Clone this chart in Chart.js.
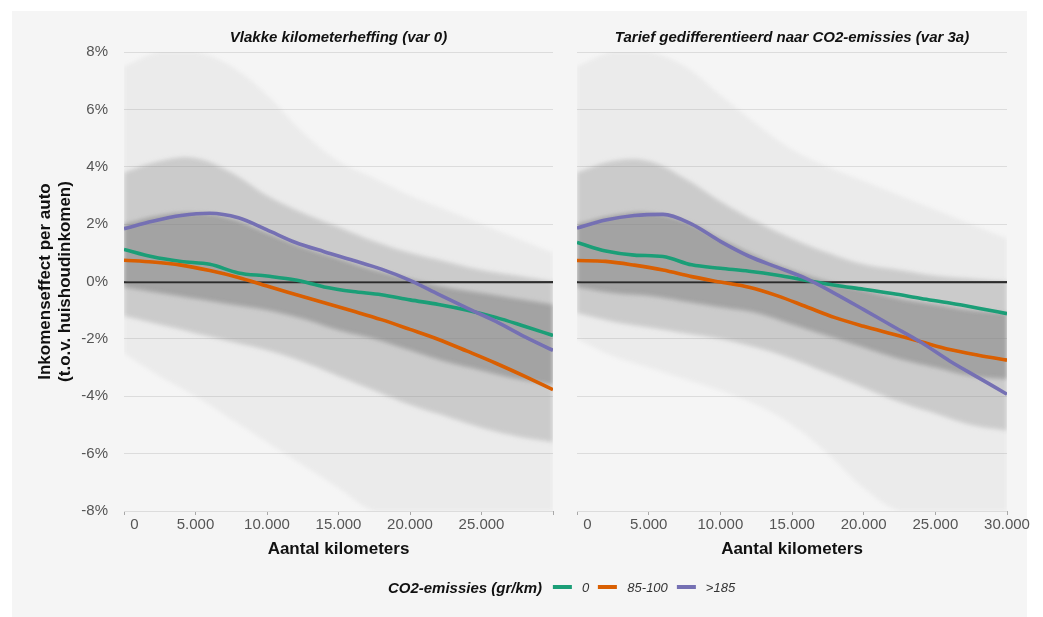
<!DOCTYPE html>
<html>
<head>
<meta charset="utf-8">
<script src="https://cdn.jsdelivr.net/npm/chart.js@4.4.1/dist/chart.umd.min.js"></script>
<style>
  html, body { margin: 0; padding: 0; background: #ffffff; }
  body { width: 1043px; height: 617px; position: relative; overflow: hidden;
         font-family: Arial, "Liberation Sans", sans-serif; }
  #panel { position: absolute; left: 12px; top: 11px; width: 1015px; height: 606px; background: #f5f5f5; }
  canvas { position: absolute; top: 0; }
  #c1 { left: 0; }
  #c2 { left: 540px; }
  #legend { position: absolute; left: 566px; top: 577px; transform: translateX(-50%);
            display: flex; align-items: center; white-space: nowrap; height: 20px; }
  #legend .ttl { font-weight: bold; font-style: italic; font-size: 15px; color: #111; margin-right: 11px; }
  #legend .sw { display: inline-block; width: 19px; height: 4px; margin-right: 10px; }
  #legend .lb { font-style: italic; font-size: 13px; color: #333; margin-right: 9px; }
</style>
</head>
<body>
<div id="panel"></div>
<canvas id="c1" width="565" height="617"></canvas>
<canvas id="c2" width="503" height="617"></canvas>
<div id="legend"></div>
<script>
// ---------- data ----------
const panelTitles = ['Vlakke kilometerheffing (var 0)', 'Tarief gedifferentieerd naar CO2-emissies (var 3a)'];
const xAxisTitle = 'Aantal kilometers';
const yAxisTitle = ['Inkomenseffect per auto', '(t.o.v. huishoudinkomen)'];
const legendTitle = 'CO2-emissies (gr/km)';
const seriesNames = ['0', '85-100', '>185'];
const seriesColors = ['#1b9e77', '#d95f02', '#7570b3'];

const yTicks = [-8, -6, -4, -2, 0, 2, 4, 6, 8];
const xTicks = [0, 5000, 10000, 15000, 20000, 25000, 30000];

// km positions of the smoothed lines
const kmLine = [0, 2000, 4000, 6000, 8000, 10000, 12000, 14000, 16000, 18000, 20000, 22000, 24000, 26000, 28000, 30000];

// Panel 1: Vlakke kilometerheffing (var 0)
const var0_co2_0      = [1.12, 0.86, 0.70, 0.60, 0.30, 0.19, 0.05, -0.19, -0.35, -0.46, -0.64, -0.80, -1.00, -1.25, -1.56, -1.88];
const var0_co2_85_100 = [0.74, 0.68, 0.57, 0.38, 0.14, -0.16, -0.45, -0.74, -1.03, -1.33, -1.67, -2.02, -2.43, -2.85, -3.30, -3.77];
const var0_co2_185    = [1.84, 2.10, 2.30, 2.38, 2.22, 1.80, 1.36, 1.04, 0.74, 0.43, 0.04, -0.45, -0.93, -1.39, -1.92, -2.40];

// Panel 2: Tarief gedifferentieerd naar CO2-emissies (var 3a)
const var3a_co2_0      = [1.36, 1.06, 0.92, 0.87, 0.58, 0.46, 0.36, 0.22, 0.04, -0.13, -0.27, -0.42, -0.59, -0.75, -0.93, -1.12];
const var3a_co2_85_100 = [0.73, 0.70, 0.57, 0.40, 0.17, -0.02, -0.20, -0.50, -0.88, -1.26, -1.56, -1.83, -2.10, -2.37, -2.57, -2.74];
const var3a_co2_185    = [1.86, 2.14, 2.30, 2.34, 2.00, 1.40, 0.88, 0.49, 0.10, -0.42, -0.98, -1.55, -2.12, -2.77, -3.35, -3.93];

// Scatter cloud of households, summarised as density envelopes
const kmCloud = [0, 2500, 5000, 7500, 10000, 12500, 15000, 17500, 20000, 22500, 25000, 27500, 30000];
const var0_outerTop = [7.5, 8.0, 8.0, 7.5, 6.5, 5.2, 4.2, 3.6, 3.0, 2.5, 2.0, 1.5, 1.0];
const var0_outerBot = [-2.5, -3.3, -4.0, -4.8, -5.6, -6.4, -7.2, -8.0, -8.0, -8.0, -8.0, -8.0, -8.0];
const var0_midTop   = [3.8, 4.2, 4.3, 3.8, 3.0, 2.4, 1.9, 1.4, 1.0, 0.7, 0.4, 0.2, 0.0];
const var0_midBot   = [-1.2, -1.5, -1.8, -2.1, -2.4, -2.8, -3.3, -3.8, -4.3, -4.7, -5.1, -5.4, -5.6];
const var0_coreTop  = [2.0, 2.3, 2.4, 2.2, 1.7, 1.2, 0.8, 0.4, 0.1, -0.2, -0.4, -0.6, -0.8];
const var0_coreBot  = [-0.2, -0.4, -0.6, -0.8, -1.0, -1.3, -1.7, -2.0, -2.4, -2.8, -3.1, -3.4, -3.6];

const var3a_outerTop = [7.5, 8.0, 8.0, 7.5, 6.5, 5.5, 4.6, 4.0, 3.5, 3.0, 2.5, 2.0, 1.5];
const var3a_outerBot = [-2.0, -2.6, -3.0, -3.4, -3.8, -4.3, -5.0, -6.0, -7.2, -8.0, -8.0, -8.0, -8.0];
const var3a_midTop   = [3.8, 4.2, 4.2, 3.6, 2.8, 2.1, 1.5, 1.0, 0.6, 0.4, 0.2, 0.1, 0.0];
const var3a_midBot   = [-1.1, -1.4, -1.6, -1.8, -2.0, -2.3, -2.7, -3.2, -3.7, -4.2, -4.6, -5.0, -5.2];
const var3a_coreTop  = [2.0, 2.3, 2.4, 2.1, 1.5, 0.9, 0.4, 0.0, -0.3, -0.6, -0.8, -1.0, -1.1];
const var3a_coreBot  = [-0.2, -0.4, -0.5, -0.7, -0.9, -1.1, -1.5, -1.9, -2.3, -2.7, -3.0, -3.3, -3.4];

// ---------- chart ----------
const FONT = 'Arial, "Liberation Sans", sans-serif';
Chart.defaults.font.family = FONT;

function pts(xs, ys) { return xs.map((x, i) => ({ x: x, y: ys[i] })); }
function fmtKm(v) { return String(v).replace(/\B(?=(\d{3})+(?!\d))/g, '.'); }

function band(top, bot, color, order) {
  return [
    { data: pts(kmCloud, top), fill: '+1', backgroundColor: color, borderWidth: 0,
      pointRadius: 0, tension: 0.4, order: order },
    { data: pts(kmCloud, bot), fill: false, borderWidth: 0, pointRadius: 0,
      tension: 0.4, order: order }
  ];
}

function lineDs(ys, idx, order, zeroBelow) {
  return { label: seriesNames[idx], data: pts(kmLine, ys), borderColor: seriesColors[idx],
           borderWidth: 3.6, pointRadius: 0, fill: false, cubicInterpolationMode: 'monotone',
           order: order, zeroBelow: !!zeroBelow, borderCapStyle: 'butt' };
}

// soft edges for the cloud, then the zero line above the cloud but below the series
const cloudAndZeroPlugin = {
  id: 'cloudAndZero',
  beforeDatasetsDraw(chart) {
    chart.ctx.save();
    chart.ctx.filter = 'blur(2px)';
  },
  beforeDatasetDraw(chart, args) {
    const ds = chart.data.datasets[args.index];
    if (!ds.zeroBelow) return;
    const ctx = chart.ctx;
    ctx.restore();
    ctx.filter = 'none';
    const y = Math.round(chart.scales.y.getPixelForValue(0)) + 0.5;
    const a = chart.chartArea;
    ctx.save();
    ctx.strokeStyle = '#2b2b2b';
    ctx.lineWidth = 1.6;
    ctx.beginPath();
    ctx.moveTo(a.left, y);
    ctx.lineTo(a.right, y);
    ctx.stroke();
    ctx.restore();
  }
};

function makeChart(id, title, cloud, lines, isLeft) {
  const datasets = []
    .concat(band(cloud[0], cloud[1], 'rgba(130,130,130,0.08)', 30))
    .concat(band(cloud[2], cloud[3], 'rgba(130,130,130,0.30)', 20))
    .concat(band(cloud[4], cloud[5], 'rgba(130,130,130,0.55)', 10))
    .concat([lineDs(lines[0], 0, 3, true), lineDs(lines[1], 1, 2), lineDs(lines[2], 2, 1)]);

  return new Chart(document.getElementById(id), {
    type: 'line',
    data: { datasets: datasets },
    plugins: [cloudAndZeroPlugin],
    options: {
      responsive: false,
      animation: false,
      events: [],
      layout: { padding: { left: 0, right: isLeft ? 12 : 36, top: 0, bottom: 0 } },
      plugins: {
        legend: { display: false },
        tooltip: { enabled: false },
        title: {
          display: true, text: title, fullSize: false,
          color: '#111', font: { size: 15, weight: 'bold', style: 'italic', family: FONT },
          padding: { top: 28.7, bottom: 5.3 }
        }
      },
      scales: {
        x: {
          type: 'linear', min: 0, max: 30000,
          afterBuildTicks: (s) => { s.ticks = xTicks.map(v => ({ value: v })); },
          afterFit: (s) => { s.height = 106; },
          ticks: {
            autoSkip: false, maxRotation: 0, padding: 1, color: '#555',
            font: { size: 15, family: FONT },
            callback: (v) => {
              if (v === 0) return '     0';
              if (isLeft && v === 30000) return '';
              return fmtKm(v);
            }
          },
          grid: { drawOnChartArea: false, drawTicks: true, tickLength: 4, color: '#a8a8a8' },
          border: { display: false },
          title: { display: true, text: xAxisTitle, color: '#111',
                   font: { size: 17, weight: 'bold', family: FONT },
                   padding: { top: 0, bottom: 57 } }
        },
        y: {
          type: 'linear', min: -8, max: 8,
          afterBuildTicks: (s) => { s.ticks = yTicks.map(v => ({ value: v })); },
          afterFit: (s) => { s.width = isLeft ? 124 : 37; },
          ticks: {
            display: isLeft, padding: 16, color: '#555',
            font: { size: 15, family: FONT },
            callback: (v) => v + '%'
          },
          grid: {
            drawTicks: false,
            color: (c) => (c.tick && c.tick.value === 0) ? '#2b2b2b' : '#dcdcdc',
            lineWidth: (c) => (c.tick && c.tick.value === 0) ? 1.6 : 1
          },
          border: { display: false },
          title: { display: isLeft, text: yAxisTitle, color: '#111',
                   font: { size: 17, weight: 'bold', family: FONT },
                   padding: { top: 34.8, bottom: 0 } }
        }
      }
    }
  });
}

makeChart('c1', panelTitles[0],
  [var0_outerTop, var0_outerBot, var0_midTop, var0_midBot, var0_coreTop, var0_coreBot],
  [var0_co2_0, var0_co2_85_100, var0_co2_185], true);
makeChart('c2', panelTitles[1],
  [var3a_outerTop, var3a_outerBot, var3a_midTop, var3a_midBot, var3a_coreTop, var3a_coreBot],
  [var3a_co2_0, var3a_co2_85_100, var3a_co2_185], false);

// legend (shared)
const lg = document.getElementById('legend');
const t = document.createElement('span'); t.className = 'ttl'; t.textContent = legendTitle; lg.appendChild(t);
seriesNames.forEach((n, i) => {
  const sw = document.createElement('span'); sw.className = 'sw'; sw.style.background = seriesColors[i]; lg.appendChild(sw);
  const lb = document.createElement('span'); lb.className = 'lb'; lb.textContent = n; lg.appendChild(lb);
});
</script>
</body>
</html>
